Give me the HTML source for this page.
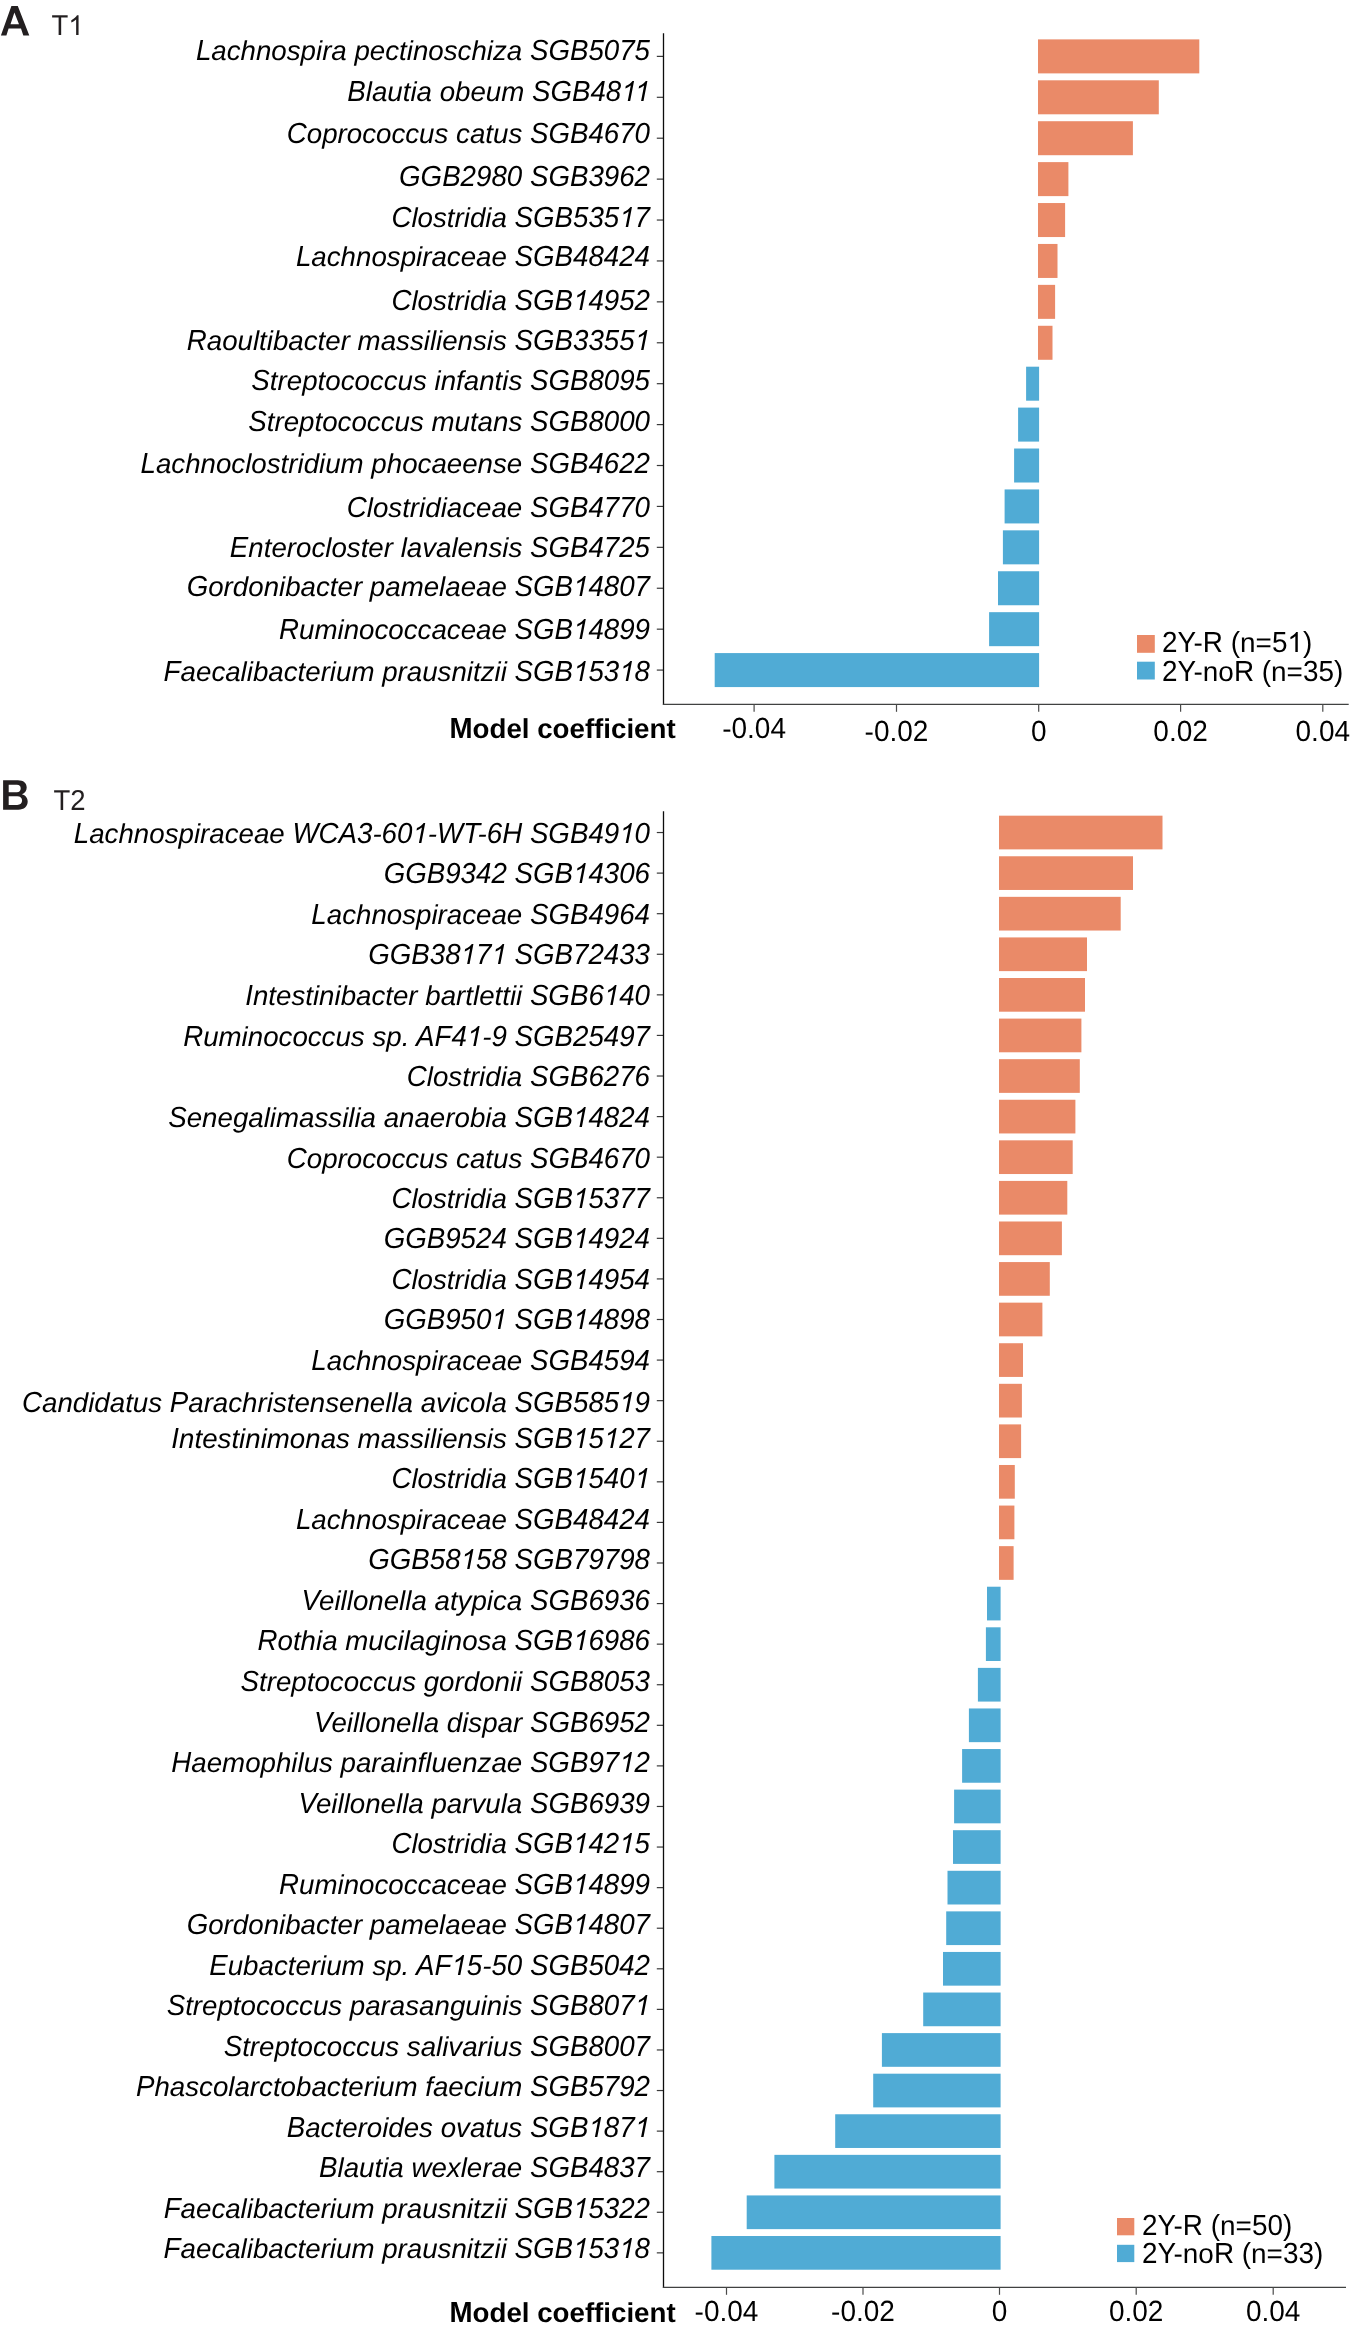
<!DOCTYPE html>
<html><head><meta charset="utf-8"><title>Model coefficients</title><style>
html,body{margin:0;padding:0;background:#fff;}
svg{display:block;will-change:transform;}
text{font-family:"Liberation Sans",sans-serif;fill:#000;text-rendering:geometricPrecision;}
.lab{font-style:italic;font-size:27.7px;text-anchor:end;}
.tk{font-size:28px;text-anchor:middle;}
.lg{font-size:27.9px;}
.mc{font-size:27.7px;font-weight:bold;}
.tt{font-size:27.5px;fill:#231f20;}
.h{fill-opacity:0;}
</style></head><body>
<svg width="1350" height="2332" viewBox="0 0 1350 2332">
<rect width="1350" height="2332" fill="#fff"/>
<rect x="1038" y="39.38" width="161.3" height="34" fill="#EA8A68"/>
<rect x="1038" y="80.3" width="120.8" height="34" fill="#EA8A68"/>
<rect x="1038" y="121.21" width="94.9" height="34" fill="#EA8A68"/>
<rect x="1038" y="162.12" width="30.4" height="34" fill="#EA8A68"/>
<rect x="1038" y="203.04" width="27.1" height="34" fill="#EA8A68"/>
<rect x="1038" y="243.95" width="19.5" height="34" fill="#EA8A68"/>
<rect x="1038" y="284.86" width="17.1" height="34" fill="#EA8A68"/>
<rect x="1038" y="325.78" width="14.5" height="34" fill="#EA8A68"/>
<rect x="1026.1" y="366.69" width="13" height="34" fill="#50ABD5"/>
<rect x="1018.1" y="407.6" width="21" height="34" fill="#50ABD5"/>
<rect x="1014.1" y="448.51" width="25" height="34" fill="#50ABD5"/>
<rect x="1004.6" y="489.43" width="34.5" height="34" fill="#50ABD5"/>
<rect x="1002.9" y="530.34" width="36.2" height="34" fill="#50ABD5"/>
<rect x="998" y="571.25" width="41.1" height="34" fill="#50ABD5"/>
<rect x="989.1" y="612.17" width="50" height="34" fill="#50ABD5"/>
<rect x="714.7" y="653.08" width="324.4" height="34" fill="#50ABD5"/>
<line x1="656.8" x2="663.4" y1="56.38" y2="56.38" stroke="#3a3a3a" stroke-width="1.2"/>
<line x1="656.8" x2="663.4" y1="97.3" y2="97.3" stroke="#3a3a3a" stroke-width="1.2"/>
<line x1="656.8" x2="663.4" y1="138.21" y2="138.21" stroke="#3a3a3a" stroke-width="1.2"/>
<line x1="656.8" x2="663.4" y1="179.12" y2="179.12" stroke="#3a3a3a" stroke-width="1.2"/>
<line x1="656.8" x2="663.4" y1="220.04" y2="220.04" stroke="#3a3a3a" stroke-width="1.2"/>
<line x1="656.8" x2="663.4" y1="260.95" y2="260.95" stroke="#3a3a3a" stroke-width="1.2"/>
<line x1="656.8" x2="663.4" y1="301.86" y2="301.86" stroke="#3a3a3a" stroke-width="1.2"/>
<line x1="656.8" x2="663.4" y1="342.78" y2="342.78" stroke="#3a3a3a" stroke-width="1.2"/>
<line x1="656.8" x2="663.4" y1="383.69" y2="383.69" stroke="#3a3a3a" stroke-width="1.2"/>
<line x1="656.8" x2="663.4" y1="424.6" y2="424.6" stroke="#3a3a3a" stroke-width="1.2"/>
<line x1="656.8" x2="663.4" y1="465.51" y2="465.51" stroke="#3a3a3a" stroke-width="1.2"/>
<line x1="656.8" x2="663.4" y1="506.43" y2="506.43" stroke="#3a3a3a" stroke-width="1.2"/>
<line x1="656.8" x2="663.4" y1="547.34" y2="547.34" stroke="#3a3a3a" stroke-width="1.2"/>
<line x1="656.8" x2="663.4" y1="588.25" y2="588.25" stroke="#3a3a3a" stroke-width="1.2"/>
<line x1="656.8" x2="663.4" y1="629.17" y2="629.17" stroke="#3a3a3a" stroke-width="1.2"/>
<line x1="656.8" x2="663.4" y1="670.08" y2="670.08" stroke="#3a3a3a" stroke-width="1.2"/>
<text class="lab" x="650" y="60" transform="matrix(1 0 0 1.045 0 -2.7)">L<tspan class="h">achnospira pectinoschiza </tspan>SGB5075</text><text class="lab" x="650" y="60" transform="matrix(1 0 0 0.99 0 0.6)"><tspan class="h">L</tspan>achnospira pectinoschiza <tspan class="h">SGB5075</tspan></text>
<text class="lab" x="650" y="101" transform="matrix(1 0 0 1.045 0 -4.54)">B<tspan class="h">lautia obeum </tspan>SGB48<tspan class="h">11</tspan></text><text class="lab" x="650" y="101" transform="matrix(1 0 0 0.99 0 1.01)"><tspan class="h">B</tspan>lautia obeum <tspan class="h">SGB4811</tspan></text>
<text class="lab" x="650" y="143" transform="matrix(1 0 0 1.045 0 -6.43)">C<tspan class="h">oprococcus catus </tspan>SGB4670</text><text class="lab" x="650" y="143" transform="matrix(1 0 0 0.99 0 1.43)"><tspan class="h">C</tspan>oprococcus catus <tspan class="h">SGB4670</tspan></text>
<text class="lab" x="650" y="186" transform="matrix(1 0 0 1.045 0 -8.37)">GGB2980<tspan class="h"> </tspan>SGB3962</text><text class="lab" x="650" y="186" transform="matrix(1 0 0 0.99 0 1.86)"><tspan class="h">GGB2980</tspan> <tspan class="h">SGB3962</tspan></text>
<text class="lab" x="650" y="227" transform="matrix(1 0 0 1.045 0 -10.21)">C<tspan class="h">lostridia </tspan>SGB535<tspan class="h">1</tspan>7</text><text class="lab" x="650" y="227" transform="matrix(1 0 0 0.99 0 2.27)"><tspan class="h">C</tspan>lostridia <tspan class="h">SGB53517</tspan></text>
<text class="lab" x="650" y="266" transform="matrix(1 0 0 1.045 0 -11.97)">L<tspan class="h">achnospiraceae </tspan>SGB48424</text><text class="lab" x="650" y="266" transform="matrix(1 0 0 0.99 0 2.66)"><tspan class="h">L</tspan>achnospiraceae <tspan class="h">SGB48424</tspan></text>
<text class="lab" x="650" y="310" transform="matrix(1 0 0 1.045 0 -13.95)">C<tspan class="h">lostridia </tspan>SGB<tspan class="h">1</tspan>4952</text><text class="lab" x="650" y="310" transform="matrix(1 0 0 0.99 0 3.1)"><tspan class="h">C</tspan>lostridia <tspan class="h">SGB14952</tspan></text>
<text class="lab" x="650" y="350" transform="matrix(1 0 0 1.045 0 -15.75)">R<tspan class="h">aoultibacter massiliensis </tspan>SGB3355<tspan class="h">1</tspan></text><text class="lab" x="650" y="350" transform="matrix(1 0 0 0.99 0 3.5)"><tspan class="h">R</tspan>aoultibacter massiliensis <tspan class="h">SGB33551</tspan></text>
<text class="lab" x="650" y="390" transform="matrix(1 0 0 1.045 0 -17.55)">S<tspan class="h">treptococcus infantis </tspan>SGB8095</text><text class="lab" x="650" y="390" transform="matrix(1 0 0 0.99 0 3.9)"><tspan class="h">S</tspan>treptococcus infantis <tspan class="h">SGB8095</tspan></text>
<text class="lab" x="650" y="431" transform="matrix(1 0 0 1.045 0 -19.39)">S<tspan class="h">treptococcus mutans </tspan>SGB8000</text><text class="lab" x="650" y="431" transform="matrix(1 0 0 0.99 0 4.31)"><tspan class="h">S</tspan>treptococcus mutans <tspan class="h">SGB8000</tspan></text>
<text class="lab" x="650" y="473" transform="matrix(1 0 0 1.045 0 -21.28)">L<tspan class="h">achnoclostridium phocaeense </tspan>SGB4622</text><text class="lab" x="650" y="473" transform="matrix(1 0 0 0.99 0 4.73)"><tspan class="h">L</tspan>achnoclostridium phocaeense <tspan class="h">SGB4622</tspan></text>
<text class="lab" x="650" y="517" transform="matrix(1 0 0 1.045 0 -23.26)">C<tspan class="h">lostridiaceae </tspan>SGB4770</text><text class="lab" x="650" y="517" transform="matrix(1 0 0 0.99 0 5.17)"><tspan class="h">C</tspan>lostridiaceae <tspan class="h">SGB4770</tspan></text>
<text class="lab" x="650" y="557" transform="matrix(1 0 0 1.045 0 -25.06)">E<tspan class="h">nterocloster lavalensis </tspan>SGB4725</text><text class="lab" x="650" y="557" transform="matrix(1 0 0 0.99 0 5.57)"><tspan class="h">E</tspan>nterocloster lavalensis <tspan class="h">SGB4725</tspan></text>
<text class="lab" x="650" y="596" transform="matrix(1 0 0 1.045 0 -26.82)">G<tspan class="h">ordonibacter pamelaeae </tspan>SGB<tspan class="h">1</tspan>4807</text><text class="lab" x="650" y="596" transform="matrix(1 0 0 0.99 0 5.96)"><tspan class="h">G</tspan>ordonibacter pamelaeae <tspan class="h">SGB14807</tspan></text>
<text class="lab" x="650" y="639" transform="matrix(1 0 0 1.045 0 -28.75)">R<tspan class="h">uminococcaceae </tspan>SGB<tspan class="h">1</tspan>4899</text><text class="lab" x="650" y="639" transform="matrix(1 0 0 0.99 0 6.39)"><tspan class="h">R</tspan>uminococcaceae <tspan class="h">SGB14899</tspan></text>
<text class="lab" x="650" y="681" transform="matrix(1 0 0 1.045 0 -30.64)">F<tspan class="h">aecalibacterium prausnitzii </tspan>SGB<tspan class="h">1</tspan>53<tspan class="h">1</tspan>8</text><text class="lab" x="650" y="681" transform="matrix(1 0 0 0.99 0 6.81)"><tspan class="h">F</tspan>aecalibacterium prausnitzii <tspan class="h">SGB15318</tspan></text>
<line x1="663.5" x2="663.5" y1="33.3" y2="704.9" stroke="#0c0c0c" stroke-width="1.3"/>
<line x1="662.9" x2="1348.7" y1="704.3" y2="704.3" stroke="#404241" stroke-width="1.2"/>
<line x1="754.1" x2="754.1" y1="704.3" y2="711.8" stroke="#4a4a4a" stroke-width="1.2"/>
<text class="tk" x="754.1" y="738" transform="matrix(1 0 0 1.045 0 -33.21)"><tspan class="h">-</tspan>0<tspan class="h">.</tspan>04</text><text class="tk" x="754.1" y="738" transform="matrix(1 0 0 0.99 0 7.38)">-<tspan class="h">0</tspan>.<tspan class="h">04</tspan></text>
<line x1="896.5" x2="896.5" y1="704.3" y2="711.8" stroke="#4a4a4a" stroke-width="1.2"/>
<text class="tk" x="896.5" y="741" transform="matrix(1 0 0 1.045 0 -33.34)"><tspan class="h">-</tspan>0<tspan class="h">.</tspan>02</text><text class="tk" x="896.5" y="741" transform="matrix(1 0 0 0.99 0 7.41)">-<tspan class="h">0</tspan>.<tspan class="h">02</tspan></text>
<line x1="1038.7" x2="1038.7" y1="704.3" y2="711.8" stroke="#4a4a4a" stroke-width="1.2"/>
<text class="tk" x="1038.7" y="741" transform="matrix(1 0 0 1.045 0 -33.34)">0</text><text class="tk" x="1038.7" y="741" transform="matrix(1 0 0 0.99 0 7.41)"><tspan class="h">0</tspan></text>
<line x1="1180.6" x2="1180.6" y1="704.3" y2="711.8" stroke="#4a4a4a" stroke-width="1.2"/>
<text class="tk" x="1180.6" y="741" transform="matrix(1 0 0 1.045 0 -33.34)">0<tspan class="h">.</tspan>02</text><text class="tk" x="1180.6" y="741" transform="matrix(1 0 0 0.99 0 7.41)"><tspan class="h">0</tspan>.<tspan class="h">02</tspan></text>
<line x1="1322.8" x2="1322.8" y1="704.3" y2="711.8" stroke="#4a4a4a" stroke-width="1.2"/>
<text class="tk" x="1322.8" y="741" transform="matrix(1 0 0 1.045 0 -33.34)">0<tspan class="h">.</tspan>04</text><text class="tk" x="1322.8" y="741" transform="matrix(1 0 0 0.99 0 7.41)"><tspan class="h">0</tspan>.<tspan class="h">04</tspan></text>
<rect x="1137" y="635" width="17.8" height="17.8" fill="#EA8A68"/>
<rect x="1137" y="661.7" width="17.8" height="17.8" fill="#50ABD5"/>
<text class="lg" x="1162" y="652" transform="matrix(1 0 0 1.045 0 -29.34)">2Y<tspan class="h">-</tspan>R<tspan class="h"> </tspan>(<tspan class="h">n=</tspan>5<tspan class="h">1</tspan>)</text><text class="lg" x="1162" y="652" transform="matrix(1 0 0 0.99 0 6.52)"><tspan class="h">2Y</tspan>-<tspan class="h">R</tspan> <tspan class="h">(</tspan>n=<tspan class="h">51)</tspan></text>
<text class="lg" x="1162" y="681" transform="matrix(1 0 0 1.045 0 -30.64)">2Y<tspan class="h">-no</tspan>R<tspan class="h"> </tspan>(<tspan class="h">n=</tspan>35)</text><text class="lg" x="1162" y="681" transform="matrix(1 0 0 0.99 0 6.81)"><tspan class="h">2Y</tspan>-no<tspan class="h">R</tspan> <tspan class="h">(</tspan>n=<tspan class="h">35)</tspan></text>
<rect x="999" y="815.68" width="163.5" height="33.7" fill="#EA8A68"/>
<rect x="999" y="856.26" width="134" height="33.7" fill="#EA8A68"/>
<rect x="999" y="896.84" width="121.7" height="33.7" fill="#EA8A68"/>
<rect x="999" y="937.42" width="88" height="33.7" fill="#EA8A68"/>
<rect x="999" y="978" width="86" height="33.7" fill="#EA8A68"/>
<rect x="999" y="1018.59" width="82.4" height="33.7" fill="#EA8A68"/>
<rect x="999" y="1059.17" width="80.8" height="33.7" fill="#EA8A68"/>
<rect x="999" y="1099.75" width="76.4" height="33.7" fill="#EA8A68"/>
<rect x="999" y="1140.33" width="73.7" height="33.7" fill="#EA8A68"/>
<rect x="999" y="1180.91" width="68.3" height="33.7" fill="#EA8A68"/>
<rect x="999" y="1221.49" width="62.9" height="33.7" fill="#EA8A68"/>
<rect x="999" y="1262.07" width="50.8" height="33.7" fill="#EA8A68"/>
<rect x="999" y="1302.65" width="43.4" height="33.7" fill="#EA8A68"/>
<rect x="999" y="1343.23" width="24" height="33.7" fill="#EA8A68"/>
<rect x="999" y="1383.81" width="22.9" height="33.7" fill="#EA8A68"/>
<rect x="999" y="1424.39" width="22.1" height="33.7" fill="#EA8A68"/>
<rect x="999" y="1464.98" width="15.8" height="33.7" fill="#EA8A68"/>
<rect x="999" y="1505.56" width="15.4" height="33.7" fill="#EA8A68"/>
<rect x="999" y="1546.14" width="14.6" height="33.7" fill="#EA8A68"/>
<rect x="987" y="1586.72" width="13.6" height="33.7" fill="#50ABD5"/>
<rect x="985.9" y="1627.3" width="14.7" height="33.7" fill="#50ABD5"/>
<rect x="977.9" y="1667.88" width="22.7" height="33.7" fill="#50ABD5"/>
<rect x="968.9" y="1708.46" width="31.7" height="33.7" fill="#50ABD5"/>
<rect x="962.1" y="1749.04" width="38.5" height="33.7" fill="#50ABD5"/>
<rect x="954.1" y="1789.62" width="46.5" height="33.7" fill="#50ABD5"/>
<rect x="953" y="1830.2" width="47.6" height="33.7" fill="#50ABD5"/>
<rect x="947.5" y="1870.79" width="53.1" height="33.7" fill="#50ABD5"/>
<rect x="946.2" y="1911.37" width="54.4" height="33.7" fill="#50ABD5"/>
<rect x="943" y="1951.95" width="57.6" height="33.7" fill="#50ABD5"/>
<rect x="923.2" y="1992.53" width="77.4" height="33.7" fill="#50ABD5"/>
<rect x="881.9" y="2033.11" width="118.7" height="33.7" fill="#50ABD5"/>
<rect x="873.2" y="2073.69" width="127.4" height="33.7" fill="#50ABD5"/>
<rect x="835.2" y="2114.27" width="165.4" height="33.7" fill="#50ABD5"/>
<rect x="774.4" y="2154.85" width="226.2" height="33.7" fill="#50ABD5"/>
<rect x="746.7" y="2195.43" width="253.9" height="33.7" fill="#50ABD5"/>
<rect x="711.4" y="2236.01" width="289.2" height="33.7" fill="#50ABD5"/>
<line x1="656.8" x2="663.4" y1="832.53" y2="832.53" stroke="#3a3a3a" stroke-width="1.2"/>
<line x1="656.8" x2="663.4" y1="873.11" y2="873.11" stroke="#3a3a3a" stroke-width="1.2"/>
<line x1="656.8" x2="663.4" y1="913.69" y2="913.69" stroke="#3a3a3a" stroke-width="1.2"/>
<line x1="656.8" x2="663.4" y1="954.27" y2="954.27" stroke="#3a3a3a" stroke-width="1.2"/>
<line x1="656.8" x2="663.4" y1="994.85" y2="994.85" stroke="#3a3a3a" stroke-width="1.2"/>
<line x1="656.8" x2="663.4" y1="1035.43" y2="1035.43" stroke="#3a3a3a" stroke-width="1.2"/>
<line x1="656.8" x2="663.4" y1="1076.02" y2="1076.02" stroke="#3a3a3a" stroke-width="1.2"/>
<line x1="656.8" x2="663.4" y1="1116.6" y2="1116.6" stroke="#3a3a3a" stroke-width="1.2"/>
<line x1="656.8" x2="663.4" y1="1157.18" y2="1157.18" stroke="#3a3a3a" stroke-width="1.2"/>
<line x1="656.8" x2="663.4" y1="1197.76" y2="1197.76" stroke="#3a3a3a" stroke-width="1.2"/>
<line x1="656.8" x2="663.4" y1="1238.34" y2="1238.34" stroke="#3a3a3a" stroke-width="1.2"/>
<line x1="656.8" x2="663.4" y1="1278.92" y2="1278.92" stroke="#3a3a3a" stroke-width="1.2"/>
<line x1="656.8" x2="663.4" y1="1319.5" y2="1319.5" stroke="#3a3a3a" stroke-width="1.2"/>
<line x1="656.8" x2="663.4" y1="1360.08" y2="1360.08" stroke="#3a3a3a" stroke-width="1.2"/>
<line x1="656.8" x2="663.4" y1="1400.66" y2="1400.66" stroke="#3a3a3a" stroke-width="1.2"/>
<line x1="656.8" x2="663.4" y1="1441.24" y2="1441.24" stroke="#3a3a3a" stroke-width="1.2"/>
<line x1="656.8" x2="663.4" y1="1481.83" y2="1481.83" stroke="#3a3a3a" stroke-width="1.2"/>
<line x1="656.8" x2="663.4" y1="1522.41" y2="1522.41" stroke="#3a3a3a" stroke-width="1.2"/>
<line x1="656.8" x2="663.4" y1="1562.99" y2="1562.99" stroke="#3a3a3a" stroke-width="1.2"/>
<line x1="656.8" x2="663.4" y1="1603.57" y2="1603.57" stroke="#3a3a3a" stroke-width="1.2"/>
<line x1="656.8" x2="663.4" y1="1644.15" y2="1644.15" stroke="#3a3a3a" stroke-width="1.2"/>
<line x1="656.8" x2="663.4" y1="1684.73" y2="1684.73" stroke="#3a3a3a" stroke-width="1.2"/>
<line x1="656.8" x2="663.4" y1="1725.31" y2="1725.31" stroke="#3a3a3a" stroke-width="1.2"/>
<line x1="656.8" x2="663.4" y1="1765.89" y2="1765.89" stroke="#3a3a3a" stroke-width="1.2"/>
<line x1="656.8" x2="663.4" y1="1806.47" y2="1806.47" stroke="#3a3a3a" stroke-width="1.2"/>
<line x1="656.8" x2="663.4" y1="1847.05" y2="1847.05" stroke="#3a3a3a" stroke-width="1.2"/>
<line x1="656.8" x2="663.4" y1="1887.64" y2="1887.64" stroke="#3a3a3a" stroke-width="1.2"/>
<line x1="656.8" x2="663.4" y1="1928.22" y2="1928.22" stroke="#3a3a3a" stroke-width="1.2"/>
<line x1="656.8" x2="663.4" y1="1968.8" y2="1968.8" stroke="#3a3a3a" stroke-width="1.2"/>
<line x1="656.8" x2="663.4" y1="2009.38" y2="2009.38" stroke="#3a3a3a" stroke-width="1.2"/>
<line x1="656.8" x2="663.4" y1="2049.96" y2="2049.96" stroke="#3a3a3a" stroke-width="1.2"/>
<line x1="656.8" x2="663.4" y1="2090.54" y2="2090.54" stroke="#3a3a3a" stroke-width="1.2"/>
<line x1="656.8" x2="663.4" y1="2131.12" y2="2131.12" stroke="#3a3a3a" stroke-width="1.2"/>
<line x1="656.8" x2="663.4" y1="2171.7" y2="2171.7" stroke="#3a3a3a" stroke-width="1.2"/>
<line x1="656.8" x2="663.4" y1="2212.28" y2="2212.28" stroke="#3a3a3a" stroke-width="1.2"/>
<line x1="656.8" x2="663.4" y1="2252.86" y2="2252.86" stroke="#3a3a3a" stroke-width="1.2"/>
<text class="lab" x="650" y="843" transform="matrix(1 0 0 1.045 0 -37.93)">L<tspan class="h">achnospiraceae </tspan>WCA3<tspan class="h">-</tspan>60<tspan class="h">1-</tspan>WT<tspan class="h">-</tspan>6H<tspan class="h"> </tspan>SGB49<tspan class="h">1</tspan>0</text><text class="lab" x="650" y="843" transform="matrix(1 0 0 0.99 0 8.43)"><tspan class="h">L</tspan>achnospiraceae <tspan class="h">WCA3</tspan>-<tspan class="h">601</tspan>-<tspan class="h">WT</tspan>-<tspan class="h">6H</tspan> <tspan class="h">SGB4910</tspan></text>
<text class="lab" x="650" y="883" transform="matrix(1 0 0 1.045 0 -39.73)">GGB9342<tspan class="h"> </tspan>SGB<tspan class="h">1</tspan>4306</text><text class="lab" x="650" y="883" transform="matrix(1 0 0 0.99 0 8.83)"><tspan class="h">GGB9342</tspan> <tspan class="h">SGB14306</tspan></text>
<text class="lab" x="650" y="924" transform="matrix(1 0 0 1.045 0 -41.58)">L<tspan class="h">achnospiraceae </tspan>SGB4964</text><text class="lab" x="650" y="924" transform="matrix(1 0 0 0.99 0 9.24)"><tspan class="h">L</tspan>achnospiraceae <tspan class="h">SGB4964</tspan></text>
<text class="lab" x="650" y="964" transform="matrix(1 0 0 1.045 0 -43.38)">GGB38<tspan class="h">1</tspan>7<tspan class="h">1 </tspan>SGB72433</text><text class="lab" x="650" y="964" transform="matrix(1 0 0 0.99 0 9.64)"><tspan class="h">GGB38171</tspan> <tspan class="h">SGB72433</tspan></text>
<text class="lab" x="650" y="1005" transform="matrix(1 0 0 1.045 0 -45.22)">I<tspan class="h">ntestinibacter bartlettii </tspan>SGB6<tspan class="h">1</tspan>40</text><text class="lab" x="650" y="1005" transform="matrix(1 0 0 0.99 0 10.05)"><tspan class="h">I</tspan>ntestinibacter bartlettii <tspan class="h">SGB6140</tspan></text>
<text class="lab" x="650" y="1046" transform="matrix(1 0 0 1.045 0 -47.07)">R<tspan class="h">uminococcus sp. </tspan>AF4<tspan class="h">1-</tspan>9<tspan class="h"> </tspan>SGB25497</text><text class="lab" x="650" y="1046" transform="matrix(1 0 0 0.99 0 10.46)"><tspan class="h">R</tspan>uminococcus sp. <tspan class="h">AF41</tspan>-<tspan class="h">9</tspan> <tspan class="h">SGB25497</tspan></text>
<text class="lab" x="650" y="1086" transform="matrix(1 0 0 1.045 0 -48.87)">C<tspan class="h">lostridia </tspan>SGB6276</text><text class="lab" x="650" y="1086" transform="matrix(1 0 0 0.99 0 10.86)"><tspan class="h">C</tspan>lostridia <tspan class="h">SGB6276</tspan></text>
<text class="lab" x="650" y="1127" transform="matrix(1 0 0 1.045 0 -50.71)">S<tspan class="h">enegalimassilia anaerobia </tspan>SGB<tspan class="h">1</tspan>4824</text><text class="lab" x="650" y="1127" transform="matrix(1 0 0 0.99 0 11.27)"><tspan class="h">S</tspan>enegalimassilia anaerobia <tspan class="h">SGB14824</tspan></text>
<text class="lab" x="650" y="1168" transform="matrix(1 0 0 1.045 0 -52.56)">C<tspan class="h">oprococcus catus </tspan>SGB4670</text><text class="lab" x="650" y="1168" transform="matrix(1 0 0 0.99 0 11.68)"><tspan class="h">C</tspan>oprococcus catus <tspan class="h">SGB4670</tspan></text>
<text class="lab" x="650" y="1208" transform="matrix(1 0 0 1.045 0 -54.36)">C<tspan class="h">lostridia </tspan>SGB<tspan class="h">1</tspan>5377</text><text class="lab" x="650" y="1208" transform="matrix(1 0 0 0.99 0 12.08)"><tspan class="h">C</tspan>lostridia <tspan class="h">SGB15377</tspan></text>
<text class="lab" x="650" y="1248" transform="matrix(1 0 0 1.045 0 -56.16)">GGB9524<tspan class="h"> </tspan>SGB<tspan class="h">1</tspan>4924</text><text class="lab" x="650" y="1248" transform="matrix(1 0 0 0.99 0 12.48)"><tspan class="h">GGB9524</tspan> <tspan class="h">SGB14924</tspan></text>
<text class="lab" x="650" y="1289" transform="matrix(1 0 0 1.045 0 -58)">C<tspan class="h">lostridia </tspan>SGB<tspan class="h">1</tspan>4954</text><text class="lab" x="650" y="1289" transform="matrix(1 0 0 0.99 0 12.89)"><tspan class="h">C</tspan>lostridia <tspan class="h">SGB14954</tspan></text>
<text class="lab" x="650" y="1329" transform="matrix(1 0 0 1.045 0 -59.8)">GGB950<tspan class="h">1 </tspan>SGB<tspan class="h">1</tspan>4898</text><text class="lab" x="650" y="1329" transform="matrix(1 0 0 0.99 0 13.29)"><tspan class="h">GGB9501</tspan> <tspan class="h">SGB14898</tspan></text>
<text class="lab" x="650" y="1370" transform="matrix(1 0 0 1.045 0 -61.65)">L<tspan class="h">achnospiraceae </tspan>SGB4594</text><text class="lab" x="650" y="1370" transform="matrix(1 0 0 0.99 0 13.7)"><tspan class="h">L</tspan>achnospiraceae <tspan class="h">SGB4594</tspan></text>
<text class="lab" x="650" y="1412" transform="matrix(1 0 0 1.045 0 -63.54)">C<tspan class="h">andidatus </tspan>P<tspan class="h">arachristensenella avicola </tspan>SGB585<tspan class="h">1</tspan>9</text><text class="lab" x="650" y="1412" transform="matrix(1 0 0 0.99 0 14.12)"><tspan class="h">C</tspan>andidatus <tspan class="h">P</tspan>arachristensenella avicola <tspan class="h">SGB58519</tspan></text>
<text class="lab" x="650" y="1448" transform="matrix(1 0 0 1.045 0 -65.16)">I<tspan class="h">ntestinimonas massiliensis </tspan>SGB<tspan class="h">1</tspan>5<tspan class="h">1</tspan>27</text><text class="lab" x="650" y="1448" transform="matrix(1 0 0 0.99 0 14.48)"><tspan class="h">I</tspan>ntestinimonas massiliensis <tspan class="h">SGB15127</tspan></text>
<text class="lab" x="650" y="1488" transform="matrix(1 0 0 1.045 0 -66.96)">C<tspan class="h">lostridia </tspan>SGB<tspan class="h">1</tspan>540<tspan class="h">1</tspan></text><text class="lab" x="650" y="1488" transform="matrix(1 0 0 0.99 0 14.88)"><tspan class="h">C</tspan>lostridia <tspan class="h">SGB15401</tspan></text>
<text class="lab" x="650" y="1529" transform="matrix(1 0 0 1.045 0 -68.8)">L<tspan class="h">achnospiraceae </tspan>SGB48424</text><text class="lab" x="650" y="1529" transform="matrix(1 0 0 0.99 0 15.29)"><tspan class="h">L</tspan>achnospiraceae <tspan class="h">SGB48424</tspan></text>
<text class="lab" x="650" y="1569" transform="matrix(1 0 0 1.045 0 -70.6)">GGB58<tspan class="h">1</tspan>58<tspan class="h"> </tspan>SGB79798</text><text class="lab" x="650" y="1569" transform="matrix(1 0 0 0.99 0 15.69)"><tspan class="h">GGB58158</tspan> <tspan class="h">SGB79798</tspan></text>
<text class="lab" x="650" y="1610" transform="matrix(1 0 0 1.045 0 -72.45)">V<tspan class="h">eillonella atypica </tspan>SGB6936</text><text class="lab" x="650" y="1610" transform="matrix(1 0 0 0.99 0 16.1)"><tspan class="h">V</tspan>eillonella atypica <tspan class="h">SGB6936</tspan></text>
<text class="lab" x="650" y="1650" transform="matrix(1 0 0 1.045 0 -74.25)">R<tspan class="h">othia mucilaginosa </tspan>SGB<tspan class="h">1</tspan>6986</text><text class="lab" x="650" y="1650" transform="matrix(1 0 0 0.99 0 16.5)"><tspan class="h">R</tspan>othia mucilaginosa <tspan class="h">SGB16986</tspan></text>
<text class="lab" x="650" y="1691" transform="matrix(1 0 0 1.045 0 -76.09)">S<tspan class="h">treptococcus gordonii </tspan>SGB8053</text><text class="lab" x="650" y="1691" transform="matrix(1 0 0 0.99 0 16.91)"><tspan class="h">S</tspan>treptococcus gordonii <tspan class="h">SGB8053</tspan></text>
<text class="lab" x="650" y="1732" transform="matrix(1 0 0 1.045 0 -77.94)">V<tspan class="h">eillonella dispar </tspan>SGB6952</text><text class="lab" x="650" y="1732" transform="matrix(1 0 0 0.99 0 17.32)"><tspan class="h">V</tspan>eillonella dispar <tspan class="h">SGB6952</tspan></text>
<text class="lab" x="650" y="1772" transform="matrix(1 0 0 1.045 0 -79.74)">H<tspan class="h">aemophilus parainfluenzae </tspan>SGB97<tspan class="h">1</tspan>2</text><text class="lab" x="650" y="1772" transform="matrix(1 0 0 0.99 0 17.72)"><tspan class="h">H</tspan>aemophilus parainfluenzae <tspan class="h">SGB9712</tspan></text>
<text class="lab" x="650" y="1813" transform="matrix(1 0 0 1.045 0 -81.58)">V<tspan class="h">eillonella parvula </tspan>SGB6939</text><text class="lab" x="650" y="1813" transform="matrix(1 0 0 0.99 0 18.13)"><tspan class="h">V</tspan>eillonella parvula <tspan class="h">SGB6939</tspan></text>
<text class="lab" x="650" y="1853" transform="matrix(1 0 0 1.045 0 -83.38)">C<tspan class="h">lostridia </tspan>SGB<tspan class="h">1</tspan>42<tspan class="h">1</tspan>5</text><text class="lab" x="650" y="1853" transform="matrix(1 0 0 0.99 0 18.53)"><tspan class="h">C</tspan>lostridia <tspan class="h">SGB14215</tspan></text>
<text class="lab" x="650" y="1894" transform="matrix(1 0 0 1.045 0 -85.23)">R<tspan class="h">uminococcaceae </tspan>SGB<tspan class="h">1</tspan>4899</text><text class="lab" x="650" y="1894" transform="matrix(1 0 0 0.99 0 18.94)"><tspan class="h">R</tspan>uminococcaceae <tspan class="h">SGB14899</tspan></text>
<text class="lab" x="650" y="1934" transform="matrix(1 0 0 1.045 0 -87.03)">G<tspan class="h">ordonibacter pamelaeae </tspan>SGB<tspan class="h">1</tspan>4807</text><text class="lab" x="650" y="1934" transform="matrix(1 0 0 0.99 0 19.34)"><tspan class="h">G</tspan>ordonibacter pamelaeae <tspan class="h">SGB14807</tspan></text>
<text class="lab" x="650" y="1975" transform="matrix(1 0 0 1.045 0 -88.87)">E<tspan class="h">ubacterium sp. </tspan>AF<tspan class="h">1</tspan>5<tspan class="h">-</tspan>50<tspan class="h"> </tspan>SGB5042</text><text class="lab" x="650" y="1975" transform="matrix(1 0 0 0.99 0 19.75)"><tspan class="h">E</tspan>ubacterium sp. <tspan class="h">AF15</tspan>-<tspan class="h">50</tspan> <tspan class="h">SGB5042</tspan></text>
<text class="lab" x="650" y="2015" transform="matrix(1 0 0 1.045 0 -90.67)">S<tspan class="h">treptococcus parasanguinis </tspan>SGB807<tspan class="h">1</tspan></text><text class="lab" x="650" y="2015" transform="matrix(1 0 0 0.99 0 20.15)"><tspan class="h">S</tspan>treptococcus parasanguinis <tspan class="h">SGB8071</tspan></text>
<text class="lab" x="650" y="2056" transform="matrix(1 0 0 1.045 0 -92.52)">S<tspan class="h">treptococcus salivarius </tspan>SGB8007</text><text class="lab" x="650" y="2056" transform="matrix(1 0 0 0.99 0 20.56)"><tspan class="h">S</tspan>treptococcus salivarius <tspan class="h">SGB8007</tspan></text>
<text class="lab" x="650" y="2096" transform="matrix(1 0 0 1.045 0 -94.32)">P<tspan class="h">hascolarctobacterium faecium </tspan>SGB5792</text><text class="lab" x="650" y="2096" transform="matrix(1 0 0 0.99 0 20.96)"><tspan class="h">P</tspan>hascolarctobacterium faecium <tspan class="h">SGB5792</tspan></text>
<text class="lab" x="650" y="2137" transform="matrix(1 0 0 1.045 0 -96.16)">B<tspan class="h">acteroides ovatus </tspan>SGB<tspan class="h">1</tspan>87<tspan class="h">1</tspan></text><text class="lab" x="650" y="2137" transform="matrix(1 0 0 0.99 0 21.37)"><tspan class="h">B</tspan>acteroides ovatus <tspan class="h">SGB1871</tspan></text>
<text class="lab" x="650" y="2177" transform="matrix(1 0 0 1.045 0 -97.96)">B<tspan class="h">lautia wexlerae </tspan>SGB4837</text><text class="lab" x="650" y="2177" transform="matrix(1 0 0 0.99 0 21.77)"><tspan class="h">B</tspan>lautia wexlerae <tspan class="h">SGB4837</tspan></text>
<text class="lab" x="650" y="2218" transform="matrix(1 0 0 1.045 0 -99.81)">F<tspan class="h">aecalibacterium prausnitzii </tspan>SGB<tspan class="h">1</tspan>5322</text><text class="lab" x="650" y="2218" transform="matrix(1 0 0 0.99 0 22.18)"><tspan class="h">F</tspan>aecalibacterium prausnitzii <tspan class="h">SGB15322</tspan></text>
<text class="lab" x="650" y="2258" transform="matrix(1 0 0 1.045 0 -101.61)">F<tspan class="h">aecalibacterium prausnitzii </tspan>SGB<tspan class="h">1</tspan>53<tspan class="h">1</tspan>8</text><text class="lab" x="650" y="2258" transform="matrix(1 0 0 0.99 0 22.58)"><tspan class="h">F</tspan>aecalibacterium prausnitzii <tspan class="h">SGB15318</tspan></text>
<line x1="663.5" x2="663.5" y1="811.2" y2="2287.9" stroke="#0c0c0c" stroke-width="1.3"/>
<line x1="662.9" x2="1346" y1="2287.3" y2="2287.3" stroke="#404241" stroke-width="1.2"/>
<line x1="726.5" x2="726.5" y1="2287.3" y2="2294.8" stroke="#4a4a4a" stroke-width="1.2"/>
<text class="tk" x="726.5" y="2321" transform="matrix(1 0 0 1.045 0 -104.44)"><tspan class="h">-</tspan>0<tspan class="h">.</tspan>04</text><text class="tk" x="726.5" y="2321" transform="matrix(1 0 0 0.99 0 23.21)">-<tspan class="h">0</tspan>.<tspan class="h">04</tspan></text>
<line x1="863" x2="863" y1="2287.3" y2="2294.8" stroke="#4a4a4a" stroke-width="1.2"/>
<text class="tk" x="863" y="2321" transform="matrix(1 0 0 1.045 0 -104.44)"><tspan class="h">-</tspan>0<tspan class="h">.</tspan>02</text><text class="tk" x="863" y="2321" transform="matrix(1 0 0 0.99 0 23.21)">-<tspan class="h">0</tspan>.<tspan class="h">02</tspan></text>
<line x1="999.5" x2="999.5" y1="2287.3" y2="2294.8" stroke="#4a4a4a" stroke-width="1.2"/>
<text class="tk" x="999.5" y="2321" transform="matrix(1 0 0 1.045 0 -104.44)">0</text><text class="tk" x="999.5" y="2321" transform="matrix(1 0 0 0.99 0 23.21)"><tspan class="h">0</tspan></text>
<line x1="1136.2" x2="1136.2" y1="2287.3" y2="2294.8" stroke="#4a4a4a" stroke-width="1.2"/>
<text class="tk" x="1136.2" y="2321" transform="matrix(1 0 0 1.045 0 -104.44)">0<tspan class="h">.</tspan>02</text><text class="tk" x="1136.2" y="2321" transform="matrix(1 0 0 0.99 0 23.21)"><tspan class="h">0</tspan>.<tspan class="h">02</tspan></text>
<line x1="1273.2" x2="1273.2" y1="2287.3" y2="2294.8" stroke="#4a4a4a" stroke-width="1.2"/>
<text class="tk" x="1273.2" y="2321" transform="matrix(1 0 0 1.045 0 -104.44)">0<tspan class="h">.</tspan>04</text><text class="tk" x="1273.2" y="2321" transform="matrix(1 0 0 0.99 0 23.21)"><tspan class="h">0</tspan>.<tspan class="h">04</tspan></text>
<rect x="1117" y="2218" width="17.3" height="17.3" fill="#EA8A68"/>
<rect x="1117" y="2244.8" width="17.3" height="17.3" fill="#50ABD5"/>
<text class="lg" x="1142" y="2235" transform="matrix(1 0 0 1.045 0 -100.57)">2Y<tspan class="h">-</tspan>R<tspan class="h"> </tspan>(<tspan class="h">n=</tspan>50)</text><text class="lg" x="1142" y="2235" transform="matrix(1 0 0 0.99 0 22.35)"><tspan class="h">2Y</tspan>-<tspan class="h">R</tspan> <tspan class="h">(</tspan>n=<tspan class="h">50)</tspan></text>
<text class="lg" x="1142" y="2263" transform="matrix(1 0 0 1.045 0 -101.83)">2Y<tspan class="h">-no</tspan>R<tspan class="h"> </tspan>(<tspan class="h">n=</tspan>33)</text><text class="lg" x="1142" y="2263" transform="matrix(1 0 0 0.99 0 22.63)"><tspan class="h">2Y</tspan>-no<tspan class="h">R</tspan> <tspan class="h">(</tspan>n=<tspan class="h">33)</tspan></text>
<path fill="#231f20" fill-rule="evenodd" d="M0.9 35.4L11.4 5.9H17.8L29.3 35.4H23.3L21 28.4H8.6L6.4 35.4ZM10.5 24.3H19L14.4 12.4Z"/>
<path fill="#231f20" fill-rule="evenodd" d="M3.1 780.2H17.8C23.5 780.2 26.7 783 26.7 787.4C26.7 790.6 24.8 793.2 21.9 794.3C25.6 795.3 27.7 798 27.7 801.6C27.7 806.5 24 809.8 18.4 809.8H3.1ZM8.7 784.8H16.9C19.4 784.8 20.7 786 20.7 788.5C20.7 790.9 19.3 792.2 16.9 792.2H8.7ZM8.7 796.3H17.2C20.3 796.3 22.1 798 22.1 800.6C22.1 803.3 20.3 804.9 17.2 804.9H8.7Z"/>
<text class="tt" x="51.5" y="35" transform="matrix(1 0 0 1.045 0 -1.57)">T<tspan class="h">1</tspan></text><text class="tt" x="51.5" y="35" transform="matrix(1 0 0 0.99 0 0.35)"><tspan class="h">T1</tspan></text>
<text class="tt" x="53.5" y="810" transform="matrix(1 0 0 1.045 0 -36.45)">T2</text><text class="tt" x="53.5" y="810" transform="matrix(1 0 0 0.99 0 8.1)"><tspan class="h">T2</tspan></text>
<text class="mc" x="449.5" y="738" transform="matrix(1 0 0 1.045 0 -33.21)">M<tspan class="h">odel coefficient</tspan></text><text class="mc" x="449.5" y="738" transform="matrix(1 0 0 0.99 0 7.38)"><tspan class="h">M</tspan>odel coefficient</text>
<text class="mc" x="449.5" y="2322" transform="matrix(1 0 0 1.045 0 -104.49)">M<tspan class="h">odel coefficient</tspan></text><text class="mc" x="449.5" y="2322" transform="matrix(1 0 0 0.99 0 23.22)"><tspan class="h">M</tspan>odel coefficient</text>
<path d="M660.3 0.0L480.3 0.0L703.3 1147.3Q626.3 1085.3 508.7 1023.3Q391.2 961.3 301.1 930.3L335.0 1104.3Q499.8 1175.3 632.4 1276.4Q765.1 1377.4 830.5 1472.4L946.5 1472.4Z" fill="#000" transform="translate(621.25 101.00) scale(0.013525 -0.013525)"/>
<path d="M660.3 0.0L480.3 0.0L703.3 1147.3Q626.3 1085.3 508.7 1023.3Q391.2 961.3 301.1 930.3L335.0 1104.3Q499.8 1175.3 632.4 1276.4Q765.1 1377.4 830.5 1472.4L946.5 1472.4Z" fill="#000" transform="translate(634.58 101.00) scale(0.013525 -0.013525)"/>
<path d="M660.3 0.0L480.3 0.0L703.3 1147.3Q626.3 1085.3 508.7 1023.3Q391.2 961.3 301.1 930.3L335.0 1104.3Q499.8 1175.3 632.4 1276.4Q765.1 1377.4 830.5 1472.4L946.5 1472.4Z" fill="#000" transform="translate(619.19 227.00) scale(0.013525 -0.013525)"/>
<path d="M660.3 0.0L480.3 0.0L703.3 1147.3Q626.3 1085.3 508.7 1023.3Q391.2 961.3 301.1 930.3L335.0 1104.3Q499.8 1175.3 632.4 1276.4Q765.1 1377.4 830.5 1472.4L946.5 1472.4Z" fill="#000" transform="translate(572.98 310.00) scale(0.013525 -0.013525)"/>
<path d="M660.3 0.0L480.3 0.0L703.3 1147.3Q626.3 1085.3 508.7 1023.3Q391.2 961.3 301.1 930.3L335.0 1104.3Q499.8 1175.3 632.4 1276.4Q765.1 1377.4 830.5 1472.4L946.5 1472.4Z" fill="#000" transform="translate(634.59 350.00) scale(0.013525 -0.013525)"/>
<path d="M660.3 0.0L480.3 0.0L703.3 1147.3Q626.3 1085.3 508.7 1023.3Q391.2 961.3 301.1 930.3L335.0 1104.3Q499.8 1175.3 632.4 1276.4Q765.1 1377.4 830.5 1472.4L946.5 1472.4Z" fill="#000" transform="translate(572.98 596.00) scale(0.013525 -0.013525)"/>
<path d="M660.3 0.0L480.3 0.0L703.3 1147.3Q626.3 1085.3 508.7 1023.3Q391.2 961.3 301.1 930.3L335.0 1104.3Q499.8 1175.3 632.4 1276.4Q765.1 1377.4 830.5 1472.4L946.5 1472.4Z" fill="#000" transform="translate(572.98 639.00) scale(0.013525 -0.013525)"/>
<path d="M660.3 0.0L480.3 0.0L703.3 1147.3Q626.3 1085.3 508.7 1023.3Q391.2 961.3 301.1 930.3L335.0 1104.3Q499.8 1175.3 632.4 1276.4Q765.1 1377.4 830.5 1472.4L946.5 1472.4Z" fill="#000" transform="translate(572.97 681.00) scale(0.013525 -0.013525)"/>
<path d="M660.3 0.0L480.3 0.0L703.3 1147.3Q626.3 1085.3 508.7 1023.3Q391.2 961.3 301.1 930.3L335.0 1104.3Q499.8 1175.3 632.4 1276.4Q765.1 1377.4 830.5 1472.4L946.5 1472.4Z" fill="#000" transform="translate(619.19 681.00) scale(0.013525 -0.013525)"/>
<path d="M763.0 0.0L583.0 0.0L583.0 1147.3Q518.0 1085.3 412.5 1023.3Q307.0 961.3 223.0 930.3L223.0 1104.3Q374.0 1175.3 487.0 1276.4Q600.0 1377.4 647.0 1472.4L763.0 1472.4Z" fill="#000" transform="translate(1287.39 652.00) scale(0.013623 -0.013623)"/>
<path d="M660.3 0.0L480.3 0.0L703.3 1147.3Q626.3 1085.3 508.7 1023.3Q391.2 961.3 301.1 930.3L335.0 1104.3Q499.8 1175.3 632.4 1276.4Q765.1 1377.4 830.5 1472.4L946.5 1472.4Z" fill="#000" transform="translate(412.42 843.00) scale(0.013525 -0.013525)"/>
<path d="M660.3 0.0L480.3 0.0L703.3 1147.3Q626.3 1085.3 508.7 1023.3Q391.2 961.3 301.1 930.3L335.0 1104.3Q499.8 1175.3 632.4 1276.4Q765.1 1377.4 830.5 1472.4L946.5 1472.4Z" fill="#000" transform="translate(619.19 843.00) scale(0.013525 -0.013525)"/>
<path d="M660.3 0.0L480.3 0.0L703.3 1147.3Q626.3 1085.3 508.7 1023.3Q391.2 961.3 301.1 930.3L335.0 1104.3Q499.8 1175.3 632.4 1276.4Q765.1 1377.4 830.5 1472.4L946.5 1472.4Z" fill="#000" transform="translate(572.98 883.00) scale(0.013525 -0.013525)"/>
<path d="M660.3 0.0L480.3 0.0L703.3 1147.3Q626.3 1085.3 508.7 1023.3Q391.2 961.3 301.1 930.3L335.0 1104.3Q499.8 1175.3 632.4 1276.4Q765.1 1377.4 830.5 1472.4L946.5 1472.4Z" fill="#000" transform="translate(460.62 964.00) scale(0.013525 -0.013525)"/>
<path d="M660.3 0.0L480.3 0.0L703.3 1147.3Q626.3 1085.3 508.7 1023.3Q391.2 961.3 301.1 930.3L335.0 1104.3Q499.8 1175.3 632.4 1276.4Q765.1 1377.4 830.5 1472.4L946.5 1472.4Z" fill="#000" transform="translate(491.44 964.00) scale(0.013525 -0.013525)"/>
<path d="M660.3 0.0L480.3 0.0L703.3 1147.3Q626.3 1085.3 508.7 1023.3Q391.2 961.3 301.1 930.3L335.0 1104.3Q499.8 1175.3 632.4 1276.4Q765.1 1377.4 830.5 1472.4L946.5 1472.4Z" fill="#000" transform="translate(603.78 1005.00) scale(0.013525 -0.013525)"/>
<path d="M660.3 0.0L480.3 0.0L703.3 1147.3Q626.3 1085.3 508.7 1023.3Q391.2 961.3 301.1 930.3L335.0 1104.3Q499.8 1175.3 632.4 1276.4Q765.1 1377.4 830.5 1472.4L946.5 1472.4Z" fill="#000" transform="translate(466.80 1046.00) scale(0.013525 -0.013525)"/>
<path d="M660.3 0.0L480.3 0.0L703.3 1147.3Q626.3 1085.3 508.7 1023.3Q391.2 961.3 301.1 930.3L335.0 1104.3Q499.8 1175.3 632.4 1276.4Q765.1 1377.4 830.5 1472.4L946.5 1472.4Z" fill="#000" transform="translate(572.98 1127.00) scale(0.013525 -0.013525)"/>
<path d="M660.3 0.0L480.3 0.0L703.3 1147.3Q626.3 1085.3 508.7 1023.3Q391.2 961.3 301.1 930.3L335.0 1104.3Q499.8 1175.3 632.4 1276.4Q765.1 1377.4 830.5 1472.4L946.5 1472.4Z" fill="#000" transform="translate(572.98 1208.00) scale(0.013525 -0.013525)"/>
<path d="M660.3 0.0L480.3 0.0L703.3 1147.3Q626.3 1085.3 508.7 1023.3Q391.2 961.3 301.1 930.3L335.0 1104.3Q499.8 1175.3 632.4 1276.4Q765.1 1377.4 830.5 1472.4L946.5 1472.4Z" fill="#000" transform="translate(572.98 1248.00) scale(0.013525 -0.013525)"/>
<path d="M660.3 0.0L480.3 0.0L703.3 1147.3Q626.3 1085.3 508.7 1023.3Q391.2 961.3 301.1 930.3L335.0 1104.3Q499.8 1175.3 632.4 1276.4Q765.1 1377.4 830.5 1472.4L946.5 1472.4Z" fill="#000" transform="translate(572.98 1289.00) scale(0.013525 -0.013525)"/>
<path d="M660.3 0.0L480.3 0.0L703.3 1147.3Q626.3 1085.3 508.7 1023.3Q391.2 961.3 301.1 930.3L335.0 1104.3Q499.8 1175.3 632.4 1276.4Q765.1 1377.4 830.5 1472.4L946.5 1472.4Z" fill="#000" transform="translate(491.41 1329.00) scale(0.013525 -0.013525)"/>
<path d="M660.3 0.0L480.3 0.0L703.3 1147.3Q626.3 1085.3 508.7 1023.3Q391.2 961.3 301.1 930.3L335.0 1104.3Q499.8 1175.3 632.4 1276.4Q765.1 1377.4 830.5 1472.4L946.5 1472.4Z" fill="#000" transform="translate(572.98 1329.00) scale(0.013525 -0.013525)"/>
<path d="M660.3 0.0L480.3 0.0L703.3 1147.3Q626.3 1085.3 508.7 1023.3Q391.2 961.3 301.1 930.3L335.0 1104.3Q499.8 1175.3 632.4 1276.4Q765.1 1377.4 830.5 1472.4L946.5 1472.4Z" fill="#000" transform="translate(619.19 1412.00) scale(0.013525 -0.013525)"/>
<path d="M660.3 0.0L480.3 0.0L703.3 1147.3Q626.3 1085.3 508.7 1023.3Q391.2 961.3 301.1 930.3L335.0 1104.3Q499.8 1175.3 632.4 1276.4Q765.1 1377.4 830.5 1472.4L946.5 1472.4Z" fill="#000" transform="translate(572.97 1448.00) scale(0.013525 -0.013525)"/>
<path d="M660.3 0.0L480.3 0.0L703.3 1147.3Q626.3 1085.3 508.7 1023.3Q391.2 961.3 301.1 930.3L335.0 1104.3Q499.8 1175.3 632.4 1276.4Q765.1 1377.4 830.5 1472.4L946.5 1472.4Z" fill="#000" transform="translate(603.78 1448.00) scale(0.013525 -0.013525)"/>
<path d="M660.3 0.0L480.3 0.0L703.3 1147.3Q626.3 1085.3 508.7 1023.3Q391.2 961.3 301.1 930.3L335.0 1104.3Q499.8 1175.3 632.4 1276.4Q765.1 1377.4 830.5 1472.4L946.5 1472.4Z" fill="#000" transform="translate(572.98 1488.00) scale(0.013525 -0.013525)"/>
<path d="M660.3 0.0L480.3 0.0L703.3 1147.3Q626.3 1085.3 508.7 1023.3Q391.2 961.3 301.1 930.3L335.0 1104.3Q499.8 1175.3 632.4 1276.4Q765.1 1377.4 830.5 1472.4L946.5 1472.4Z" fill="#000" transform="translate(634.59 1488.00) scale(0.013525 -0.013525)"/>
<path d="M660.3 0.0L480.3 0.0L703.3 1147.3Q626.3 1085.3 508.7 1023.3Q391.2 961.3 301.1 930.3L335.0 1104.3Q499.8 1175.3 632.4 1276.4Q765.1 1377.4 830.5 1472.4L946.5 1472.4Z" fill="#000" transform="translate(460.61 1569.00) scale(0.013525 -0.013525)"/>
<path d="M660.3 0.0L480.3 0.0L703.3 1147.3Q626.3 1085.3 508.7 1023.3Q391.2 961.3 301.1 930.3L335.0 1104.3Q499.8 1175.3 632.4 1276.4Q765.1 1377.4 830.5 1472.4L946.5 1472.4Z" fill="#000" transform="translate(572.98 1650.00) scale(0.013525 -0.013525)"/>
<path d="M660.3 0.0L480.3 0.0L703.3 1147.3Q626.3 1085.3 508.7 1023.3Q391.2 961.3 301.1 930.3L335.0 1104.3Q499.8 1175.3 632.4 1276.4Q765.1 1377.4 830.5 1472.4L946.5 1472.4Z" fill="#000" transform="translate(619.19 1772.00) scale(0.013525 -0.013525)"/>
<path d="M660.3 0.0L480.3 0.0L703.3 1147.3Q626.3 1085.3 508.7 1023.3Q391.2 961.3 301.1 930.3L335.0 1104.3Q499.8 1175.3 632.4 1276.4Q765.1 1377.4 830.5 1472.4L946.5 1472.4Z" fill="#000" transform="translate(572.97 1853.00) scale(0.013525 -0.013525)"/>
<path d="M660.3 0.0L480.3 0.0L703.3 1147.3Q626.3 1085.3 508.7 1023.3Q391.2 961.3 301.1 930.3L335.0 1104.3Q499.8 1175.3 632.4 1276.4Q765.1 1377.4 830.5 1472.4L946.5 1472.4Z" fill="#000" transform="translate(619.19 1853.00) scale(0.013525 -0.013525)"/>
<path d="M660.3 0.0L480.3 0.0L703.3 1147.3Q626.3 1085.3 508.7 1023.3Q391.2 961.3 301.1 930.3L335.0 1104.3Q499.8 1175.3 632.4 1276.4Q765.1 1377.4 830.5 1472.4L946.5 1472.4Z" fill="#000" transform="translate(572.98 1894.00) scale(0.013525 -0.013525)"/>
<path d="M660.3 0.0L480.3 0.0L703.3 1147.3Q626.3 1085.3 508.7 1023.3Q391.2 961.3 301.1 930.3L335.0 1104.3Q499.8 1175.3 632.4 1276.4Q765.1 1377.4 830.5 1472.4L946.5 1472.4Z" fill="#000" transform="translate(572.98 1934.00) scale(0.013525 -0.013525)"/>
<path d="M660.3 0.0L480.3 0.0L703.3 1147.3Q626.3 1085.3 508.7 1023.3Q391.2 961.3 301.1 930.3L335.0 1104.3Q499.8 1175.3 632.4 1276.4Q765.1 1377.4 830.5 1472.4L946.5 1472.4Z" fill="#000" transform="translate(451.36 1975.00) scale(0.013525 -0.013525)"/>
<path d="M660.3 0.0L480.3 0.0L703.3 1147.3Q626.3 1085.3 508.7 1023.3Q391.2 961.3 301.1 930.3L335.0 1104.3Q499.8 1175.3 632.4 1276.4Q765.1 1377.4 830.5 1472.4L946.5 1472.4Z" fill="#000" transform="translate(634.59 2015.00) scale(0.013525 -0.013525)"/>
<path d="M660.3 0.0L480.3 0.0L703.3 1147.3Q626.3 1085.3 508.7 1023.3Q391.2 961.3 301.1 930.3L335.0 1104.3Q499.8 1175.3 632.4 1276.4Q765.1 1377.4 830.5 1472.4L946.5 1472.4Z" fill="#000" transform="translate(588.38 2137.00) scale(0.013525 -0.013525)"/>
<path d="M660.3 0.0L480.3 0.0L703.3 1147.3Q626.3 1085.3 508.7 1023.3Q391.2 961.3 301.1 930.3L335.0 1104.3Q499.8 1175.3 632.4 1276.4Q765.1 1377.4 830.5 1472.4L946.5 1472.4Z" fill="#000" transform="translate(634.59 2137.00) scale(0.013525 -0.013525)"/>
<path d="M660.3 0.0L480.3 0.0L703.3 1147.3Q626.3 1085.3 508.7 1023.3Q391.2 961.3 301.1 930.3L335.0 1104.3Q499.8 1175.3 632.4 1276.4Q765.1 1377.4 830.5 1472.4L946.5 1472.4Z" fill="#000" transform="translate(572.98 2218.00) scale(0.013525 -0.013525)"/>
<path d="M660.3 0.0L480.3 0.0L703.3 1147.3Q626.3 1085.3 508.7 1023.3Q391.2 961.3 301.1 930.3L335.0 1104.3Q499.8 1175.3 632.4 1276.4Q765.1 1377.4 830.5 1472.4L946.5 1472.4Z" fill="#000" transform="translate(572.97 2258.00) scale(0.013525 -0.013525)"/>
<path d="M660.3 0.0L480.3 0.0L703.3 1147.3Q626.3 1085.3 508.7 1023.3Q391.2 961.3 301.1 930.3L335.0 1104.3Q499.8 1175.3 632.4 1276.4Q765.1 1377.4 830.5 1472.4L946.5 1472.4Z" fill="#000" transform="translate(619.19 2258.00) scale(0.013525 -0.013525)"/>
<path d="M763.0 0.0L583.0 0.0L583.0 1147.3Q518.0 1085.3 412.5 1023.3Q307.0 961.3 223.0 930.3L223.0 1104.3Q374.0 1175.3 487.0 1276.4Q600.0 1377.4 647.0 1472.4L763.0 1472.4Z" fill="#231f20" transform="translate(68.31 35.00) scale(0.013428 -0.013428)"/>
</svg>
</body></html>
